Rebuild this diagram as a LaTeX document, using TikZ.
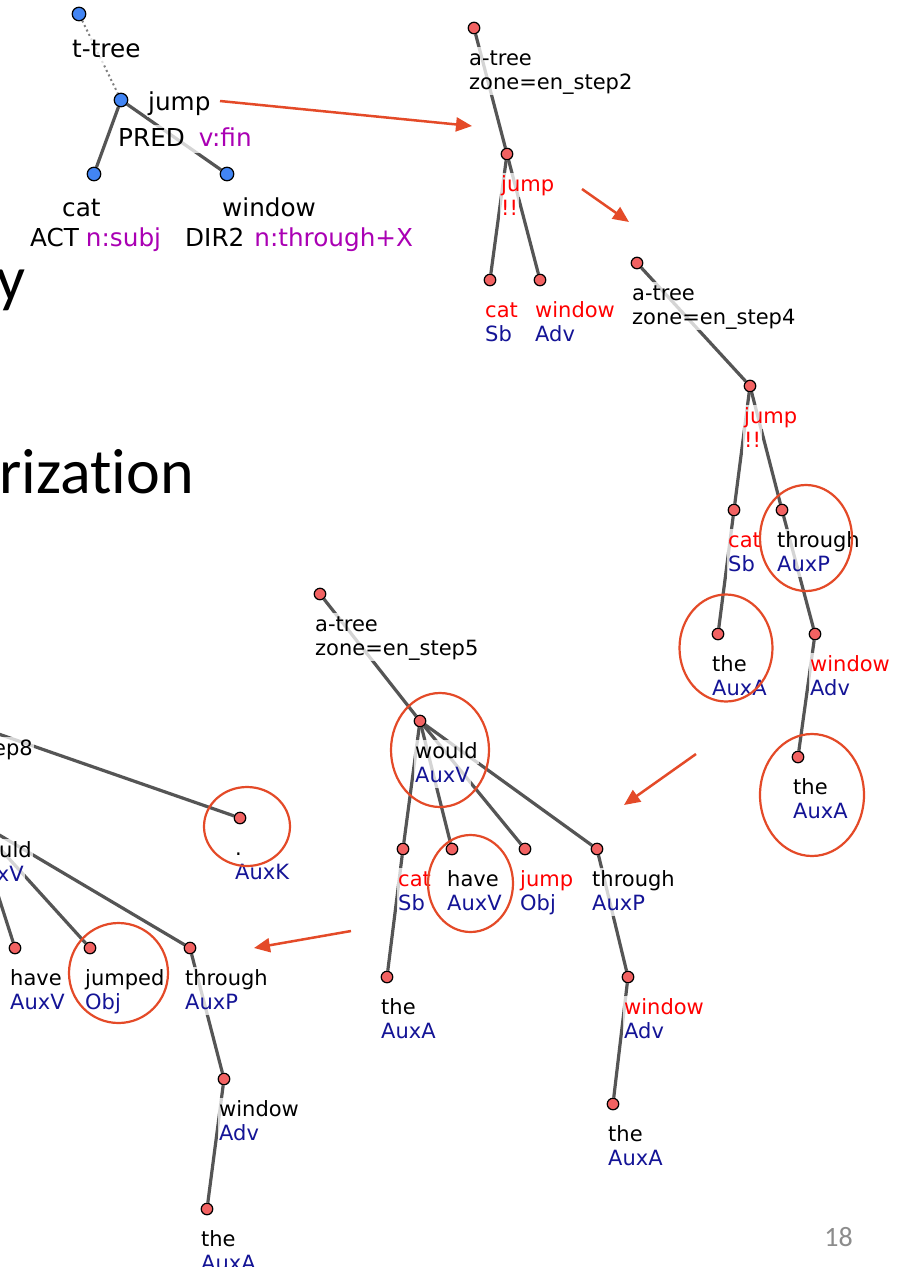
\documentclass[tikz,border=0pt]{standalone}
\usepackage{fontspec}
\setmainfont{DejaVu Sans}
\newfontfamily\titlefont[Ligatures=NoCommon]{Carlito}
\usetikzlibrary{arrows.meta}
\definecolor{nodered}{RGB}{242,98,98}
\definecolor{nodeblue}{RGB}{66,133,244}
\definecolor{edgegray}{RGB}{85,85,85}
\definecolor{hlorange}{RGB}{228,74,40}
\definecolor{labred}{RGB}{255,0,0}
\definecolor{labnavy}{RGB}{20,20,150}
\definecolor{labpurple}{RGB}{170,0,180}
\definecolor{pagegray}{RGB}{140,140,140}
\pgfdeclarelayer{bg}
\pgfdeclarelayer{edges}
\pgfdeclarelayer{labels}
\pgfsetlayers{bg,edges,labels,main}
\tikzset{
  anode/.style={circle, draw=black, line width=1.2pt, fill=nodered, minimum size=11.5pt, inner sep=0pt},
  tnode/.style={circle, draw=black, line width=1.2pt, fill=nodeblue, minimum size=13.5pt, inner sep=0pt},
  edge/.style={draw=edgegray, line width=3.2pt},
  dotedge/.style={draw=gray, line width=2pt, dash pattern=on 2pt off 3pt},
  lbl/.style={anchor=base west, font=\fontsize{21}{24}\selectfont, fill=white, fill opacity=0.75, text opacity=1, inner xsep=1pt, inner ysep=2pt, text height=16pt, text depth=4pt},
  tlbl/.style={lbl, font=\fontsize{24.7}{29}\selectfont, text height=19pt, text depth=5pt},
  hl/.style={draw=hlorange, line width=2.2pt},
  flow/.style={draw=hlorange, line width=2.5pt, -{Triangle[length=16pt,width=14pt]}},
  bigtxt/.style={inner sep=0pt, font=\titlefont\fontsize{64}{70}\selectfont}
}
\begin{document}
\begin{tikzpicture}[x=1pt,y=-1pt]
\useasboundingbox (0,0) rectangle (897,1267);
\begin{pgfonlayer}{bg}
\fill[white] (0,0) rectangle (897,1267);
% slide title fragments
\node[bigtxt, anchor=base east] (title1) at (26,300) {y};
\node[bigtxt, anchor=base east] (title2) at (194,493) {rization};
\node[anchor=base east, inner sep=0pt, font=\titlefont\fontsize{28}{30}\selectfont, text=pagegray] (pagenum) at (853,1246) {18};
\end{pgfonlayer}

% ---------------- tree nodes ----------------
% t-tree
\node[tnode] (troot) at (79,14) {};
\node[tnode] (tjump) at (121,100) {};
\node[tnode] (tcat) at (94,174) {};
\node[tnode] (twin) at (227,174) {};
% step2
\node[anode] (r2) at (474,28) {};
\node[anode] (j2) at (507,154) {};
\node[anode] (c2) at (490,280) {};
\node[anode] (w2) at (540,280) {};
% step4
\node[anode] (r4) at (637,263) {};
\node[anode] (j4) at (750,386) {};
\node[anode] (c4) at (734,510) {};
\node[anode] (t4) at (782,510) {};
\node[anode] (the4a) at (718,634) {};
\node[anode] (win4) at (815,634) {};
\node[anode] (the4b) at (798,757) {};
% step5
\node[anode] (r5) at (320,594) {};
\node[anode] (w5) at (420,721) {};
\node[anode] (c5) at (403,849) {};
\node[anode] (h5) at (452,849) {};
\node[anode] (jp5) at (525,849) {};
\node[anode] (th5) at (597,849) {};
\node[anode] (the5a) at (387,977) {};
\node[anode] (win5) at (628,977) {};
\node[anode] (the5b) at (613,1104) {};
% step8 (partly outside the picture)
\coordinate (r8) at (-125,691);
\coordinate (w8) at (-26,820);
\node[anode] (dot8) at (240,818) {};
\node[anode] (have8) at (15,948) {};
\node[anode] (jmp8) at (90,948) {};
\node[anode] (th8) at (190,948) {};
\node[anode] (win8) at (224,1079) {};
\node[anode] (the8) at (207,1209) {};

% ---------------- edges ----------------
\begin{pgfonlayer}{edges}
\draw[dotedge] (troot) -- (tjump);
\draw[edge] (tjump) -- (tcat);
\draw[edge] (tjump) -- (twin);
\draw[edge] (r2) -- (j2);
\draw[edge] (j2) -- (c2);
\draw[edge] (j2) -- (w2);
\draw[edge] (r4) -- (j4);
\draw[edge] (j4) -- (c4);
\draw[edge] (j4) -- (t4);
\draw[edge] (c4) -- (the4a);
\draw[edge] (t4) -- (win4);
\draw[edge] (win4) -- (the4b);
\draw[edge] (r5) -- (w5);
\draw[edge] (w5) -- (c5);
\draw[edge] (w5) -- (h5);
\draw[edge] (w5) -- (jp5);
\draw[edge] (w5) -- (th5);
\draw[edge] (c5) -- (the5a);
\draw[edge] (th5) -- (win5);
\draw[edge] (win5) -- (the5b);
\draw[edge] (r8) -- (dot8);
\draw[edge] (w8) -- (have8);
\draw[edge] (w8) -- (jmp8);
\draw[edge] (w8) -- (th8);
\draw[edge] (th8) -- (win8);
\draw[edge] (win8) -- (the8);
\end{pgfonlayer}

% ---------------- labels ----------------
\begin{pgfonlayer}{labels}
% t-tree
\node[tlbl] (ltroot) at (71,57) {t-tree};
\node[tlbl] (ltjump1) at (147,110) {jump};
\node[tlbl] (ltjump2) at (117,146) {PRED\hspace{14pt}\textcolor{labpurple}{v:fin}};
\node[tlbl] (ltcat1) at (61,216) {cat};
\node[tlbl] (ltcat2) at (29,246) {ACT\hspace{7pt}\textcolor{labpurple}{n:subj}};
\node[tlbl] (ltwin1) at (221,216) {window};
\node[tlbl] (ltwin2) at (184,246) {DIR2\hspace{10pt}\textcolor{labpurple}{n:through+X}};
% step2
\node[lbl] (lr2a) at (468,65) {a-tree};
\node[lbl] (lr2b) at (468,89) {zone=en\_step2};
\node[lbl, text=labred] (lj2a) at (500,191) {jump};
\node[lbl, text=labred] (lj2b) at (500,215) {!!};
\node[lbl, text=labred] (lc2a) at (484,317) {cat};
\node[lbl, text=labnavy] (lc2b) at (484,341) {Sb};
\node[lbl, text=labred] (lw2a) at (534,317) {window};
\node[lbl, text=labnavy] (lw2b) at (534,341) {Adv};
% step4
\node[lbl] (lr4a) at (631,300) {a-tree};
\node[lbl] (lr4b) at (631,324) {zone=en\_step4};
\node[lbl, text=labred] (lj4a) at (743,423) {jump};
\node[lbl, text=labred] (lj4b) at (743,447) {!!};
\node[lbl, text=labred] (lc4a) at (727,547) {cat};
\node[lbl, text=labnavy] (lc4b) at (727,571) {Sb};
\node[lbl] (lt4a) at (776,547) {through};
\node[lbl, text=labnavy] (lt4b) at (776,571) {AuxP};
\node[lbl] (lthe4aa) at (711,671) {the};
\node[lbl, text=labnavy] (lthe4ab) at (711,695) {AuxA};
\node[lbl, text=labred] (lwin4a) at (809,671) {window};
\node[lbl, text=labnavy] (lwin4b) at (809,695) {Adv};
\node[lbl] (lthe4ba) at (792,794) {the};
\node[lbl, text=labnavy] (lthe4bb) at (792,818) {AuxA};
% step5
\node[lbl] (lr5a) at (314,631) {a-tree};
\node[lbl] (lr5b) at (314,655) {zone=en\_step5};
\node[lbl] (lw5a) at (414,758) {would};
\node[lbl, text=labnavy] (lw5b) at (414,782) {AuxV};
\node[lbl, text=labred] (lc5a) at (397,886) {cat};
\node[lbl, text=labnavy] (lc5b) at (397,910) {Sb};
\node[lbl] (lh5a) at (446,886) {have};
\node[lbl, text=labnavy] (lh5b) at (446,910) {AuxV};
\node[lbl, text=labred] (ljp5a) at (519,886) {jump};
\node[lbl, text=labnavy] (ljp5b) at (519,910) {Obj};
\node[lbl] (lth5a) at (591,886) {through};
\node[lbl, text=labnavy] (lth5b) at (591,910) {AuxP};
\node[lbl] (lthe5aa) at (380,1014) {the};
\node[lbl, text=labnavy] (lthe5ab) at (380,1038) {AuxA};
\node[lbl, text=labred] (lwin5a) at (623,1014) {window};
\node[lbl, text=labnavy] (lwin5b) at (623,1038) {Adv};
\node[lbl] (lthe5ba) at (607,1141) {the};
\node[lbl, text=labnavy] (lthe5bb) at (607,1165) {AuxA};
% step8
\node[lbl, anchor=base east] (lr8b) at (34,755) {zone=en\_step8};
\node[lbl] (lw8a) at (-32,857) {would};
\node[lbl, text=labnavy] (lw8b) at (-32,881) {AuxV};
\node[lbl] (ldot8a) at (234,855) {.};
\node[lbl, text=labnavy] (ldot8b) at (234,879) {AuxK};
\node[lbl] (lhave8a) at (9,985) {have};
\node[lbl, text=labnavy] (lhave8b) at (9,1009) {AuxV};
\node[lbl] (ljmp8a) at (84,985) {jumped};
\node[lbl, text=labnavy] (ljmp8b) at (84,1009) {Obj};
\node[lbl] (lth8a) at (184,985) {through};
\node[lbl, text=labnavy] (lth8b) at (184,1009) {AuxP};
\node[lbl] (lwin8a) at (218,1116) {window};
\node[lbl, text=labnavy] (lwin8b) at (218,1140) {Adv};
\node[lbl] (lthe8a) at (200,1246) {the};
\node[lbl, text=labnavy] (lthe8b) at (200,1270) {AuxA};
\end{pgfonlayer}

% ---------------- highlight ellipses ----------------
\draw[hl] (806,538) ellipse [x radius=46, y radius=53];
\draw[hl] (726,648) ellipse [x radius=46.5, y radius=53.5];
\draw[hl] (812,795) ellipse [x radius=52, y radius=61];
\draw[hl] (440,750) ellipse [x radius=49, y radius=57];
\draw[hl] (470.5,883.5) ellipse [x radius=42.5, y radius=48.5];
\draw[hl] (247,826.5) ellipse [x radius=43, y radius=39.5];
\draw[hl] (118.5,973) ellipse [x radius=49.5, y radius=50];

% ---------------- flow arrows ----------------
\coordinate (a1s) at (220,101);
\coordinate (a1e) at (472,126);
\coordinate (a2s) at (582,189);
\coordinate (a2e) at (629,222);
\coordinate (a3s) at (696,754);
\coordinate (a3e) at (624,805);
\coordinate (a4s) at (351,931);
\coordinate (a4e) at (254,948);
\draw[flow] (a1s) -- (a1e);
\draw[flow] (a2s) -- (a2e);
\draw[flow] (a3s) -- (a3e);
\draw[flow] (a4s) -- (a4e);
\end{tikzpicture}
\end{document}
